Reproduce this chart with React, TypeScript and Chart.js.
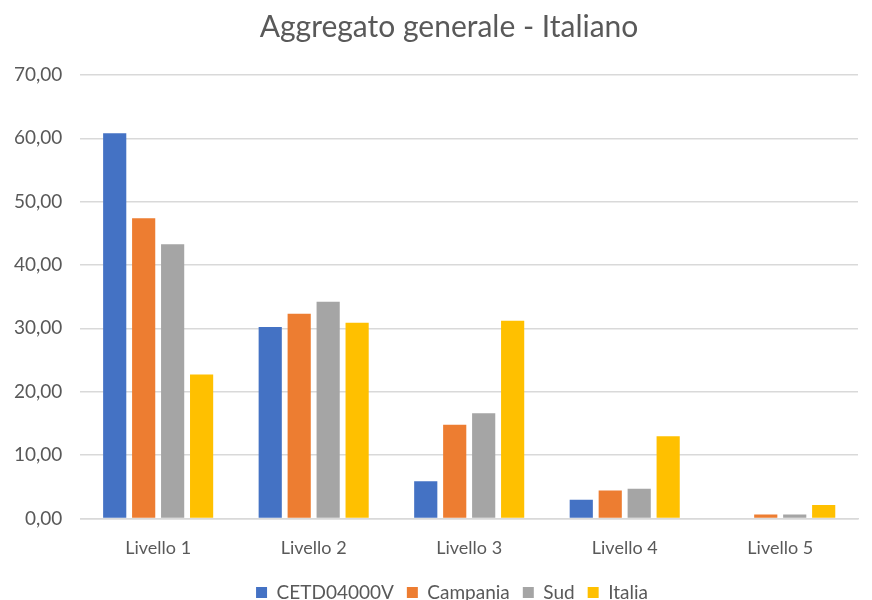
import React, { useEffect, useRef } from "react";
import { Chart, registerables } from "chart.js";

Chart.register(...registerables);

const categories = ["Livello 1", "Livello 2", "Livello 3", "Livello 4", "Livello 5"];
const seriesNames = ["CETD04000V", "Campania", "Sud", "Italia"];
const cetd = [60.8, 30.2, 5.85, 2.95, 0];
const campania = [47.4, 32.3, 14.8, 4.4, 0.6];
const sud = [43.3, 34.2, 16.6, 4.7, 0.6];
const italia = [22.7, 30.9, 31.2, 12.95, 2.1];
const colors = ["#4472C4", "#ED7D31", "#A5A5A5", "#FFC000"];
const FONT = "Lato, 'Open Sans', sans-serif";

const shiftBoxes = {
  id: "shiftBoxes",
  afterLayout(chart: any) {
    if (chart.titleBlock) chart.titleBlock.left += 44;
    if (chart.legend) chart.legend.left += 50;
  },
};

export default function App() {
  const ref = useRef<HTMLCanvasElement>(null);
  useEffect(() => {
    if (!ref.current) return;
    const values = [cetd, campania, sud, italia];
    const chart = new Chart(ref.current, {
      type: "bar",
      data: {
        labels: categories,
        datasets: seriesNames.map((n, i) => ({
          label: n,
          data: values[i],
          backgroundColor: colors[i],
          borderWidth: 0,
          categoryPercentage: 0.745,
          barPercentage: 0.8,
        })),
      },
      plugins: [shiftBoxes],
      options: {
        animation: false,
        responsive: true,
        maintainAspectRatio: false,
        layout: { padding: { left: -4, right: 14, top: 0, bottom: 0 } },
        plugins: {
          title: {
            display: true,
            text: "Aggregato generale - Italiano",
            color: "#595959",
            font: { family: FONT, size: 30, weight: "normal" },
            padding: { top: 9, bottom: 30 },
          },
          legend: {
            position: "bottom",
            labels: {
              color: "#595959",
              font: { family: FONT, size: 19 },
              boxWidth: 11,
              boxHeight: 11,
              padding: 13,
            },
          },
          tooltip: { enabled: false },
        },
        scales: {
          x: {
            grid: { display: false },
            border: { color: "#d9d9d9", width: 1.5 },
            ticks: { color: "#595959", font: { family: FONT, size: 18 }, padding: 11 },
          },
          y: {
            min: 0,
            max: 70,
            ticks: {
              stepSize: 10,
              color: "#595959",
              font: { family: FONT, size: 19 },
              padding: 18,
              callback: (v: any) => Number(v).toFixed(2).replace(".", ","),
            },
            grid: { color: "#d9d9d9", lineWidth: 1.5, drawTicks: false },
            border: { display: false },
          },
        },
      },
    });
    return () => chart.destroy();
  }, []);
  return (
    <div style={{ position: "fixed", left: 0, top: 0, width: 872, height: 612, background: "#fff" }}>
      <canvas ref={ref} />
    </div>
  );
}
